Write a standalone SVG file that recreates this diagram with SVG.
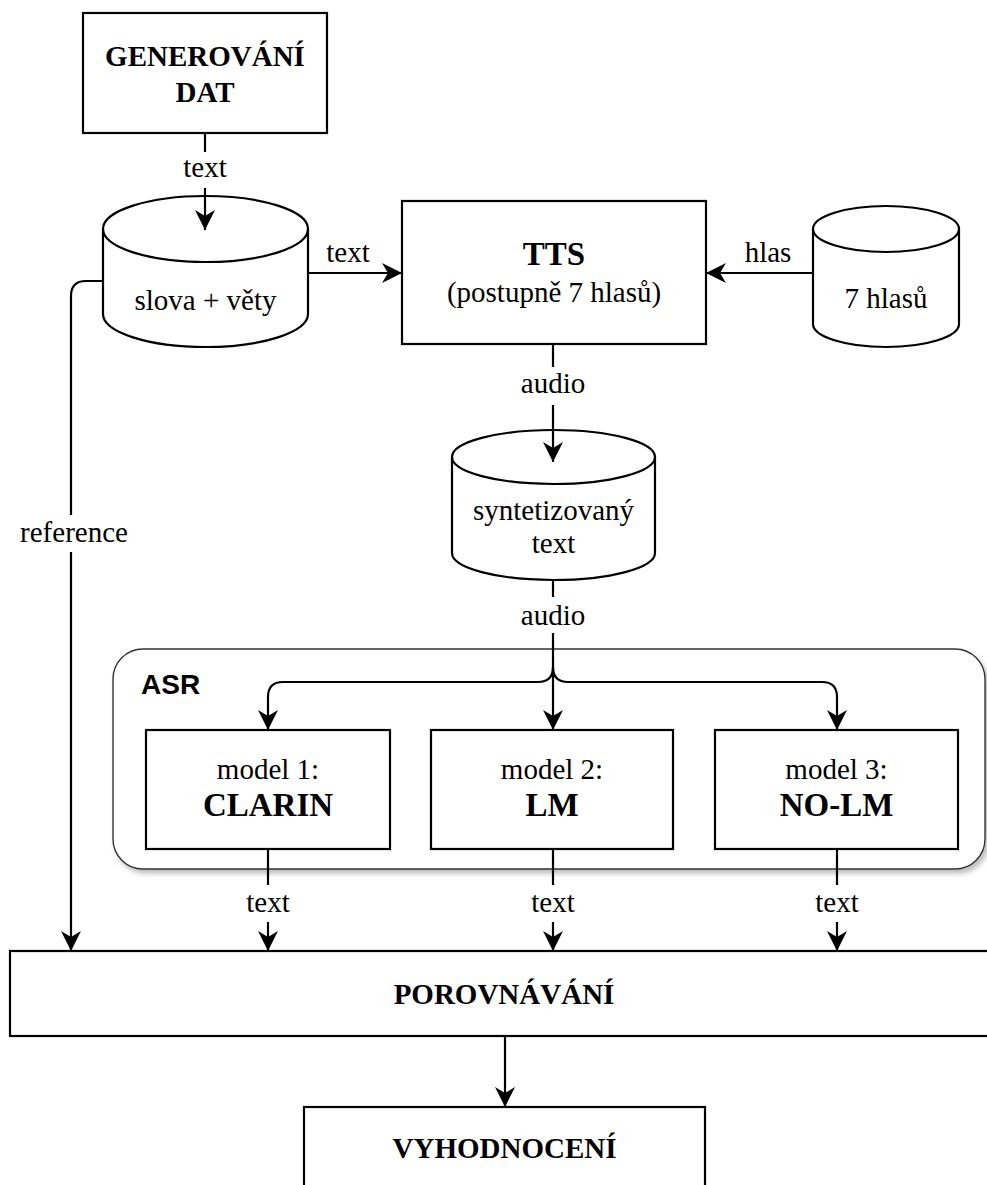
<svg xmlns="http://www.w3.org/2000/svg" width="987" height="1185" viewBox="0 0 987 1185">
  <defs>
    <marker id="arrow" markerUnits="userSpaceOnUse" markerWidth="24" markerHeight="24" viewBox="-22 -12 24 24" refX="0" refY="0" orient="auto">
      <path d="M0,0 L-20,-10 L-14,0 L-20,10 Z" fill="#000"/>
    </marker>
    <filter id="shadow" x="-5%" y="-5%" width="112%" height="120%">
      <feDropShadow dx="3" dy="4" stdDeviation="2.5" flood-color="#000" flood-opacity="0.25"/>
    </filter>
  </defs>
  <style>
    .box { fill: #fff; stroke: #000; stroke-width: 2.2; }
    .db { fill: #fff; stroke: #000; stroke-width: 2.2; }
    .rim { fill: none; stroke: #000; stroke-width: 2.2; }
    .edge { fill: none; stroke: #000; stroke-width: 2.2; }
    .t { font-family: "Liberation Serif", "Times New Roman", serif; font-size: 29px; fill: #000; text-anchor: middle; }
    .b { font-weight: bold; }
    .big { font-size: 33px; }
    .asr { font-family: "Liberation Sans", Arial, sans-serif; font-size: 28px; font-weight: bold; fill: #000; }
  </style>

  <rect width="987" height="1185" fill="#fff"/>

  <!-- ASR container -->
  <g id="asr">
    <rect x="113" y="649" width="872" height="220" rx="30" ry="30" fill="#fff" stroke="#333" stroke-width="1.4" filter="url(#shadow)"/>
    <text class="asr" x="141" y="694">ASR</text>
  </g>

  <g id="generovani">
    <rect class="box" x="83" y="13" width="244" height="120"/>
    <text class="t b" x="205" y="66">GENEROVÁNÍ</text>
    <text class="t b" x="205" y="102">DAT</text>
  </g>

  <g id="slova-vety">
    <path class="db" d="M103,229 A102.5,33 0 0 1 308,229 L308,314 A102.5,33 0 0 1 103,314 Z"/>
    <path class="rim" d="M103,229 A102.5,33 0 0 0 308,229"/>
    <text class="t" x="205.5" y="310">slova + věty</text>
  </g>

  <g id="tts">
    <rect class="box" x="402" y="201" width="304" height="143"/>
    <text class="t b big" x="554" y="265">TTS</text>
    <text class="t" x="554" y="302">(postupně 7 hlasů)</text>
  </g>

  <g id="hlasy">
    <path class="db" d="M813,229 A73,23 0 0 1 959,229 L959,324 A73,23 0 0 1 813,324 Z"/>
    <path class="rim" d="M813,229 A73,23 0 0 0 959,229"/>
    <text class="t" x="886" y="308">7 hlasů</text>
  </g>

  <g id="syntetizovany">
    <path class="db" d="M452,457 A101.5,27 0 0 1 655,457 L655,553 A101.5,27 0 0 1 452,553 Z"/>
    <path class="rim" d="M452,457 A101.5,27 0 0 0 655,457"/>
    <text class="t" x="553.5" y="520">syntetizovaný</text>
    <text class="t" x="553.5" y="553">text</text>
  </g>

  <g id="model1">
    <rect class="box" x="146" y="730" width="244" height="119"/>
    <text class="t" x="268" y="779">model 1:</text>
    <text class="t b big" x="268" y="816">CLARIN</text>
  </g>

  <g id="model2">
    <rect class="box" x="431" y="730" width="242" height="119"/>
    <text class="t" x="552" y="779">model 2:</text>
    <text class="t b big" x="552" y="816">LM</text>
  </g>

  <g id="model3">
    <rect class="box" x="715" y="730" width="243" height="119"/>
    <text class="t" x="836.5" y="779">model 3:</text>
    <text class="t b big" x="836.5" y="816">NO-LM</text>
  </g>

  <g id="porovnavani">
    <rect class="box" x="10" y="951" width="988" height="85"/>
    <text class="t b" x="504" y="1004">POROVNÁVÁNÍ</text>
  </g>

  <g id="vyhodnoceni">
    <rect class="box" x="304" y="1107" width="401" height="120"/>
    <text class="t b" x="504.5" y="1158">VYHODNOCENÍ</text>
  </g>

  <!-- connectors -->
  <g id="connectors">
    <!-- generování -> slova + věty -->
    <path class="edge" d="M205,133 L205,152"/>
    <path class="edge" d="M205,188 L205,230" marker-end="url(#arrow)"/>
    <text class="t" x="205" y="177">text</text>

    <!-- slova + věty -> TTS -->
    <path class="edge" d="M308,273 L402,273" marker-end="url(#arrow)"/>
    <text class="t" x="348" y="262">text</text>

    <!-- 7 hlasů -> TTS -->
    <path class="edge" d="M813,273 L706,273" marker-end="url(#arrow)"/>
    <text class="t" x="768" y="262">hlas</text>

    <!-- TTS -> syntetizovaný text -->
    <path class="edge" d="M553,344 L553,367"/>
    <path class="edge" d="M553,405 L553,462" marker-end="url(#arrow)"/>
    <text class="t" x="553" y="393">audio</text>

    <!-- syntetizovaný text -> ASR models -->
    <path class="edge" d="M553,580 L553,597"/>
    <text class="t" x="553" y="625">audio</text>
    <path class="edge" d="M553,633 L553,730" marker-end="url(#arrow)"/>
    <path class="edge" d="M553,667 Q553,682 538,682 L283,682 Q268,682 268,697 L268,730" marker-end="url(#arrow)"/>
    <path class="edge" d="M553,667 Q553,682 568,682 L822,682 Q837,682 837,697 L837,730" marker-end="url(#arrow)"/>

    <!-- reference -->
    <path class="edge" d="M103,281 L86,281 Q71,281 71,296 L71,515"/>
    <path class="edge" d="M71,552 L71,951" marker-end="url(#arrow)"/>
    <text class="t" x="74" y="542">reference</text>

    <!-- models -> porovnávání -->
    <path class="edge" d="M268,849 L268,885"/>
    <path class="edge" d="M268,922 L268,951" marker-end="url(#arrow)"/>
    <text class="t" x="268" y="912">text</text>

    <path class="edge" d="M553,849 L553,885"/>
    <path class="edge" d="M553,922 L553,951" marker-end="url(#arrow)"/>
    <text class="t" x="553" y="912">text</text>

    <path class="edge" d="M837,849 L837,885"/>
    <path class="edge" d="M837,922 L837,951" marker-end="url(#arrow)"/>
    <text class="t" x="837" y="912">text</text>

    <!-- porovnávání -> vyhodnocení -->
    <path class="edge" d="M505,1036 L505,1107" marker-end="url(#arrow)"/>
  </g>
</svg>
